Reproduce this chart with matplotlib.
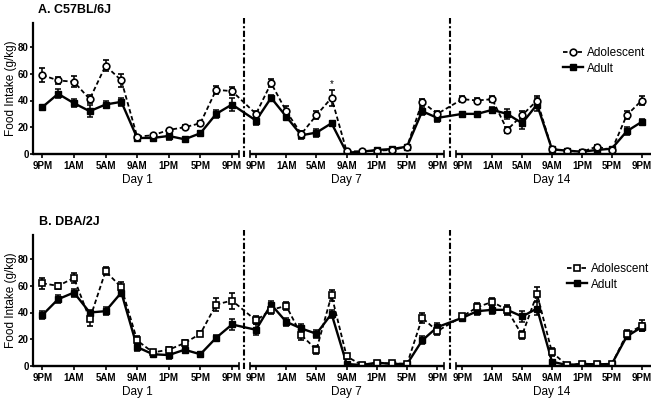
import numpy as np
import matplotlib
matplotlib.use('Agg')
import matplotlib.pyplot as plt
from matplotlib.lines import Line2D

plt.rcParams['font.family'] = ['Liberation Sans', 'DejaVu Sans']

# ---------------- data ----------------
hour_labels = ['9PM', '1AM', '5AM', '9AM', '1PM', '5PM', '9PM']
day_labels = ['Day 1', 'Day 7', 'Day 14']
series_names = ['Adolescent', 'Adult']
panel_titles = ['A. C57BL/6J', 'B. DBA/2J']

# 2-h bins: Day 1 (13) + Day 7 (13) + Day 14 (13)
c57_adol = [59, 55, 54, 41, 66, 55, 13, 14, 18, 20, 23, 48, 47,
            30, 53, 32, 15, 29, 42, 2, 2, 2.5, 3, 5.5, 39, 30,
            41, 40, 41, 18, 29, 40, 3.5, 2.5, 1.7, 5.5, 3, 29, 40]
c57_adol_err = [5, 2.5, 4, 3, 4, 5, 1.5, 1, 1, 1.5, 2, 3, 3,
                2, 3, 4, 2, 3, 6, 1, 1, 1, 1, 1, 2, 2,
                2, 2, 2, 2, 3, 3, 1, 1, 1, 1.5, 1, 3, 3]
c57_adult = [35, 45, 38, 32, 37, 39, 12, 12, 13.5, 11, 15.5, 30, 37,
             25, 42, 28, 14, 16, 23, 1, 1.7, 3, 3.7, 5.5, 32, 27,
             30, 30, 33, 30, 23, 37, 3.5, 2.5, 1.7, 3, 4, 17, 24]
c57_adult_err = [2, 3.5, 3, 4.5, 2.5, 3, 2, 2, 3, 1, 1.5, 3, 4.5,
                 3, 2, 2, 3, 3, 2, 1, 1, 1, 1, 1, 3, 3,
                 1, 1, 2, 4, 4, 5, 1, 1, 1, 1, 1, 3, 2]

dba_adol = [62, 60, 66, 35, 71, 59, 19, 10, 12, 17, 24, 46, 49,
            34, 42, 45, 23, 12, 53, 7, 0.5, 1.8, 1.8, 1.3, 36, 26,
            37, 44, 48, 42, 23, 54, 10, 0.5, 1.3, 1, 1, 24, 30]
dba_adol_err = [4, 2, 4, 5, 3, 4, 3, 1, 2, 2, 2, 5, 6,
                3, 3, 3, 4, 3, 4, 2, 1, 1, 1, 1, 4, 3,
                2, 3, 3, 4, 3, 5, 3, 1, 1, 1, 1, 3, 4]
dba_adult = [38, 50, 55, 40, 41, 55, 14, 8.6, 8, 12, 8.6, 21, 31,
             27, 46, 33, 28, 24, 39, 1.3, 0.5, 2.3, 1.3, 1.3, 19, 29,
             36, 41, 42, 42, 37, 43, 3, 0.5, 1.3, 1, 1.3, 22, 29]
dba_adult_err = [3, 3, 3, 2, 3, 2, 3, 1, 3, 1, 1, 2, 4,
                 4, 3, 3, 3, 3, 3, 1, 1, 1, 1, 1, 3, 3,
                 2, 3, 3, 3, 4, 5, 1, 1, 1, 1, 1, 2, 3]

star_index = 18  # Day 7, 7AM (C57 adolescent)

# ---------------- layout ----------------
W, H = 656, 403
DAY_START = [42.3, 256.0, 462.3]
DAY_SPAN = [189.7, 181.3, 179.4]
AX_SEGS = [(33, 239.3), (250, 444), (455.7, 651)]
DIVIDERS = [244.3, 450]
YTOP = 98
N_BINS = 13

x = np.concatenate([s + sp * np.arange(N_BINS) / 12 for s, sp in zip(DAY_START, DAY_SPAN)])
xticks = np.concatenate([s + sp * np.arange(0, N_BINS, 2) / 12 for s, sp in zip(DAY_START, DAY_SPAN)])
xticklabels = hour_labels * 3

fig = plt.figure(figsize=(W / 100, H / 100), dpi=100)


def px_axes(left, right, top, bottom):
    return fig.add_axes([left / W, 1 - bottom / H, (right - left) / W, (bottom - top) / H])


def draw_panel(ax, adol, adol_err, adult, adult_err, marker, legend_xy):
    ax.set_xlim(33, 651)
    ax.set_ylim(0, YTOP)
    ax.errorbar(x, adult, yerr=adult_err, color='k', lw=1.7, marker='s', ms=4.2,
                mfc='k', mec='k', capsize=2.3, elinewidth=1.1, capthick=1.1, zorder=3)
    ax.errorbar(x, adol, yerr=adol_err, color='k', lw=1.3, ls=(0, (2.5, 1.5)),
                marker=marker, ms=4.8, mfc='white', mec='k', mew=1.2,
                capsize=2.3, elinewidth=1.1, capthick=1.1, zorder=4)
    for s in ['top', 'right', 'bottom']:
        ax.spines[s].set_visible(False)
    ax.spines['left'].set_linewidth(1.6)
    # broken x-axis
    for a, b in AX_SEGS:
        ax.plot([a, b], [0, 0], color='k', lw=1.7, clip_on=False,
                solid_capstyle='butt', zorder=5)
    for xb in [AX_SEGS[0][1], AX_SEGS[1][0], AX_SEGS[1][1], AX_SEGS[2][0]]:
        ax.plot([xb, xb], [-2.4, 2.4], color='k', lw=1.2, clip_on=False, zorder=5)
    for d in DIVIDERS:
        ax.plot([d, d], [-2.5, 102], color='k', lw=1.5,
                ls=(0, (3, 1.2, 1, 1.2)), clip_on=False, zorder=5)
    ax.set_xticks(xticks)
    ax.set_xticklabels(xticklabels)
    for lab in ax.get_xticklabels():
        lab.set_fontweight('bold')
    ax.tick_params(axis='x', direction='out', length=3, width=1.2, pad=2, labelsize=7)
    ax.set_yticks([0, 20, 40, 60, 80])
    for lab in ax.get_yticklabels():
        lab.set_fontweight('bold')
    ax.tick_params(axis='y', direction='out', length=2.3, width=1.2, pad=0.8, labelsize=7)
    for xi, lab in enumerate(day_labels):
        c = DAY_START[xi] + DAY_SPAN[xi] / 2
        ax.text(c, -19.5, lab, ha='center', va='center', fontsize=8.5, clip_on=False)
    handles = [
        Line2D([], [], color='k', lw=1.3, ls=(0, (2.5, 1.5)), marker=marker, ms=4.8,
               mfc='white', mec='k', mew=1.2),
        Line2D([], [], color='k', lw=1.7, marker='s', ms=4.2, mfc='k', mec='k'),
    ]
    ax.legend(handles, series_names, loc='upper left',
              bbox_to_anchor=(legend_xy[0] / W, 1 - legend_xy[1] / H),
              bbox_transform=fig.transFigure, frameon=False, fontsize=8.5,
              handlelength=1.7, handletextpad=0.3, labelspacing=0.3,
              borderpad=0, borderaxespad=0, numpoints=1)


axA = px_axes(33, 651, 154 - YTOP * 1.3375, 154)
draw_panel(axA, c57_adol, c57_adol_err, c57_adult, c57_adult_err, 'o', (563, 47))
axA.text(x[star_index], 52, '*', ha='center', va='center', fontsize=7)

axB = px_axes(33, 651, 365.7 - YTOP * 1.33, 365.7)
draw_panel(axB, dba_adol, dba_adol_err, dba_adult, dba_adult_err, 's', (567, 263))

fig.text(38 / W, 1 - 10 / H, panel_titles[0], fontsize=9, fontweight='bold',
         ha='left', va='center')
fig.text(39 / W, 1 - 221.7 / H, panel_titles[1], fontsize=9, fontweight='bold',
         ha='left', va='center')
fig.text(11 / W, 1 - 88.5 / H, 'Food Intake (g/kg)', rotation=90, fontsize=8.5,
         ha='center', va='center')
fig.text(11 / W, 1 - 300.5 / H, 'Food Intake (g/kg)', rotation=90, fontsize=8.5,
         ha='center', va='center')

fig.savefig('out.png', dpi=100)
